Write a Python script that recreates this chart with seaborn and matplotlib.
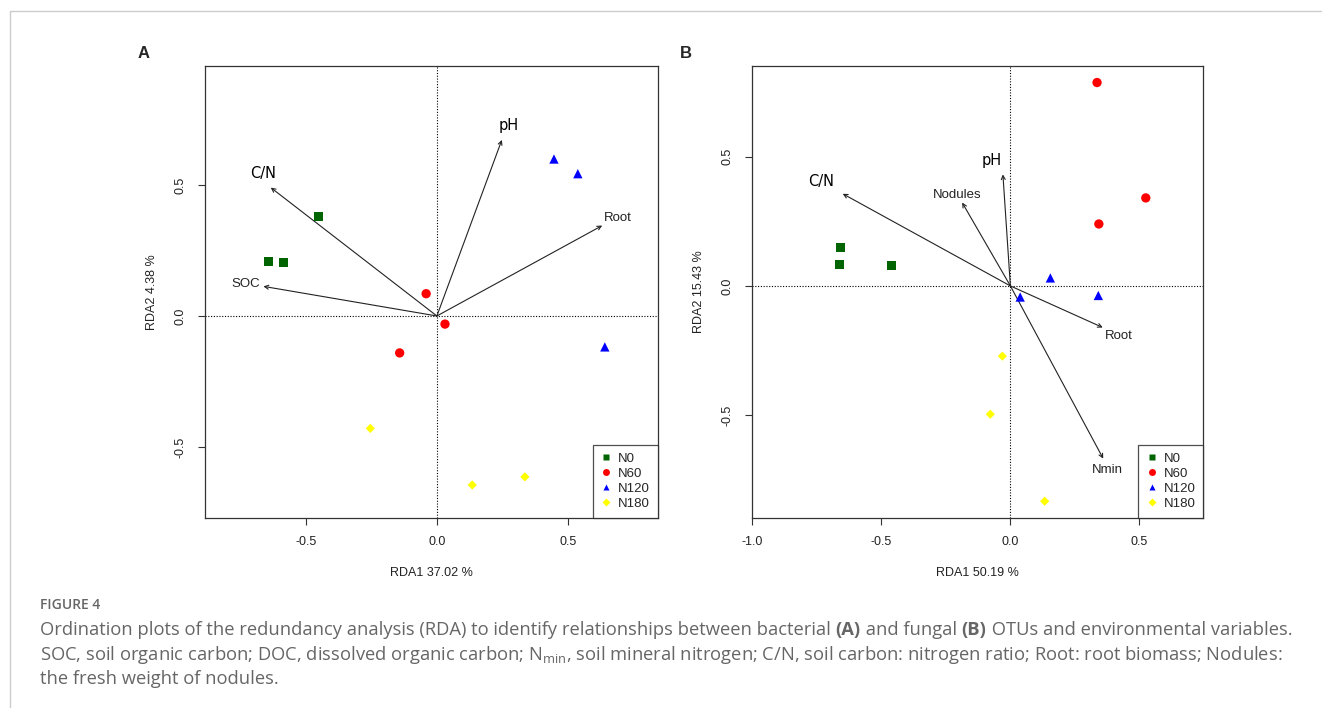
import numpy as np
import pandas as pd
import matplotlib
matplotlib.use("Agg")
import matplotlib.pyplot as plt
from matplotlib.lines import Line2D
import seaborn as sns

sns.set_theme(style="white")
plt.rcParams["font.family"] = ["Liberation Sans", "DejaVu Sans"]

# ---------------- data ----------------
groups = ["N0", "N60", "N120", "N180"]
group_colors = ["#006400", "#FF0000", "#0000FF", "#FFFF00"]
group_markers = ["s", "o", "^", "D"]

# Panel A (bacteria)
a_group = ["N0"] * 3 + ["N60"] * 3 + ["N120"] * 3 + ["N180"] * 3
a_x = [-0.453, -0.644, -0.585, -0.041, 0.031, -0.142, 0.447, 0.538, 0.641, -0.254, 0.135, 0.336]
a_y = [0.379, 0.206, 0.203, 0.085, -0.031, -0.141, 0.599, 0.543, -0.118, -0.429, -0.645, -0.614]
a_vars = ["C/N", "SOC", "pH", "Root"]
a_vx = [-0.634, -0.662, 0.248, 0.631]
a_vy = [0.490, 0.113, 0.672, 0.345]
a_lx = [-0.665, -0.729, 0.275, 0.690]
a_ly = [0.542, 0.121, 0.726, 0.374]
a_xlabel = "RDA1 37.02 %"
a_ylabel = "RDA2 4.38 %"

# Panel B (fungi)
b_group = ["N0"] * 3 + ["N60"] * 3 + ["N120"] * 3 + ["N180"] * 3
b_x = [-0.657, -0.664, -0.460, 0.336, 0.525, 0.343, 0.155, 0.038, 0.341, -0.031, -0.078, 0.133]
b_y = [0.147, 0.084, 0.078, 0.788, 0.341, 0.240, 0.031, -0.043, -0.037, -0.272, -0.497, -0.834]
b_vars = ["C/N", "Nodules", "pH", "Root", "Nmin"]
b_vx = [-0.650, -0.187, -0.029, 0.358, 0.360]
b_vy = [0.357, 0.323, 0.432, -0.161, -0.669]
b_lx = [-0.735, -0.208, -0.072, 0.419, 0.376]
b_ly = [0.406, 0.354, 0.487, -0.195, -0.712]
b_xlabel = "RDA1 50.19 %"
b_ylabel = "RDA2 15.43 %"

ticks = [-1.0, -0.5, 0.0, 0.5]
tick_labels = ["-1.0", "-0.5", "0.0", "0.5"]

# ---------------- figure ----------------
W, H = 1322, 708
fig = plt.figure(figsize=(W / 100, H / 100), dpi=100)
fig.patch.set_facecolor("white")


def fx(px):
    return px / W


def fy(py):
    return 1 - py / H


axA = fig.add_axes([fx(205), fy(518), fx(658) - fx(205), fy(66) - fy(518)])
axB = fig.add_axes([fx(751.7), fy(518), fx(1203.3) - fx(751.7), fy(66) - fy(518)])

palette = dict(zip(groups, group_colors))
markers = dict(zip(groups, group_markers))
sizes = {"N0": 42, "N60": 45, "N120": 45, "N180": 22}


def draw_panel(ax, grp, xs, ys, vars_, vx, vy, lx, ly, xlim, ylim, xlabel, ylabel):
    df = pd.DataFrame({"x": xs, "y": ys, "group": grp})
    ax.axvline(0, color="black", ls=(0, (1, 1.5)), lw=0.8, zorder=1)
    ax.axhline(0, color="black", ls=(0, (1, 1.5)), lw=0.8, zorder=1)
    for g in groups:
        d = df[df["group"] == g]
        sns.scatterplot(data=d, x="x", y="y", color=palette[g], marker=markers[g],
                        s=sizes[g], edgecolor="none", linewidth=0, ax=ax, zorder=3,
                        legend=False)
    for name, x, y, tx, ty in zip(vars_, vx, vy, lx, ly):
        ax.annotate("", xy=(x, y), xytext=(0, 0),
                    arrowprops=dict(arrowstyle="->", color="#222222", lw=0.8,
                                    mutation_scale=7, shrinkA=0, shrinkB=0),
                    zorder=2)
        if name in ("C/N", "pH"):
            ax.text(tx, ty, name, ha="center", va="center", fontsize=10.5,
                    color="black", family=["DejaVu Sans"])
        else:
            ax.text(tx, ty, name, ha="center", va="center", fontsize=9.5,
                    color="#222222")
    ax.set_xlim(*xlim)
    ax.set_ylim(*ylim)
    ax.set_xticks([t for t in ticks if xlim[0] <= t <= xlim[1]])
    ax.set_xticklabels([l for t, l in zip(ticks, tick_labels) if xlim[0] <= t <= xlim[1]])
    ax.set_yticks([t for t in ticks if ylim[0] <= t <= ylim[1]])
    ax.set_yticklabels([l for t, l in zip(ticks, tick_labels) if ylim[0] <= t <= ylim[1]],
                       rotation=90, va="center")
    ax.tick_params(axis="both", direction="out", length=5, width=0.8, color="#333333",
                   labelsize=9, labelcolor="#222222", pad=8, bottom=True, left=True)
    ax.set_xlabel(xlabel, fontsize=9, color="#222222", labelpad=14)
    ax.set_ylabel(ylabel, fontsize=9, color="#222222", labelpad=12)
    for s in ax.spines.values():
        s.set_visible(True)
        s.set_color("#333333")
        s.set_linewidth(0.9)
    handles = [Line2D([0], [0], marker=m, color="none", markerfacecolor=c,
                      markeredgecolor="none", markersize=(5 if m != "D" else 4), label=g)
               for g, c, m in zip(groups, group_colors, group_markers)]
    leg = ax.legend(handles=handles, loc="lower right", borderaxespad=0, fontsize=9.5,
                    frameon=True, fancybox=False, handlelength=0.8, handletextpad=0.5,
                    labelspacing=0.22, borderpad=0.6)
    leg.get_frame().set_edgecolor("#222222")
    leg.get_frame().set_linewidth(0.9)


draw_panel(axA, a_group, a_x, a_y, a_vars, a_vx, a_vy, a_lx, a_ly,
           (-0.885, 0.844), (-0.771, 0.954), a_xlabel, a_ylabel)
draw_panel(axB, b_group, b_x, b_y, b_vars, b_vx, b_vy, b_lx, b_ly,
           (-1.003, 0.748), (-0.899, 0.852), b_xlabel, b_ylabel)

fig.text(fx(144), fy(53), "A", fontsize=12, fontweight="bold", ha="center", va="center")
fig.text(fx(686), fy(53), "B", fontsize=12, fontweight="bold", ha="center", va="center")

# outer frame lines
fig.add_artist(Line2D([fx(10), fx(10)], [fy(11), 0], color="#cccccc", lw=1.0))
fig.add_artist(Line2D([fx(10), 1], [fy(11), fy(11)], color="#cccccc", lw=1.0))

# caption
cap_col = "#666666"
cap_font = ["Open Sans", "DejaVu Sans"]
fig.text(fx(40), fy(605), "FIGURE 4", fontsize=10, color=cap_col, family=cap_font,
         fontweight="semibold", va="center")

fig.canvas.draw()
renderer = fig.canvas.get_renderer()


def write_line(pieces, x0, yc, size=13.2):
    x = x0
    for txt, bold in pieces:
        t = fig.text(x, yc, txt, fontsize=size, color=cap_col, family=cap_font,
                     fontweight=("bold" if bold else "normal"), va="center")
        bb = t.get_window_extent(renderer=renderer)
        x = x + bb.width / W


write_line([("Ordination plots of the redundancy analysis (RDA) to identify relationships between bacterial ", False),
            ("(A)", True), (" and fungal ", False), ("(B)", True),
            (" OTUs and environmental variables.", False)], fx(40), fy(630))
write_line([("SOC, soil organic carbon; DOC, dissolved organic carbon; N$_{\\mathregular{min}}$, soil mineral nitrogen; "
             "C/N, soil carbon: nitrogen ratio; Root: root biomass; Nodules:", False)], fx(40), fy(655))
write_line([("the fresh weight of nodules.", False)], fx(40), fy(679))

fig.savefig("out.png", dpi=100)
